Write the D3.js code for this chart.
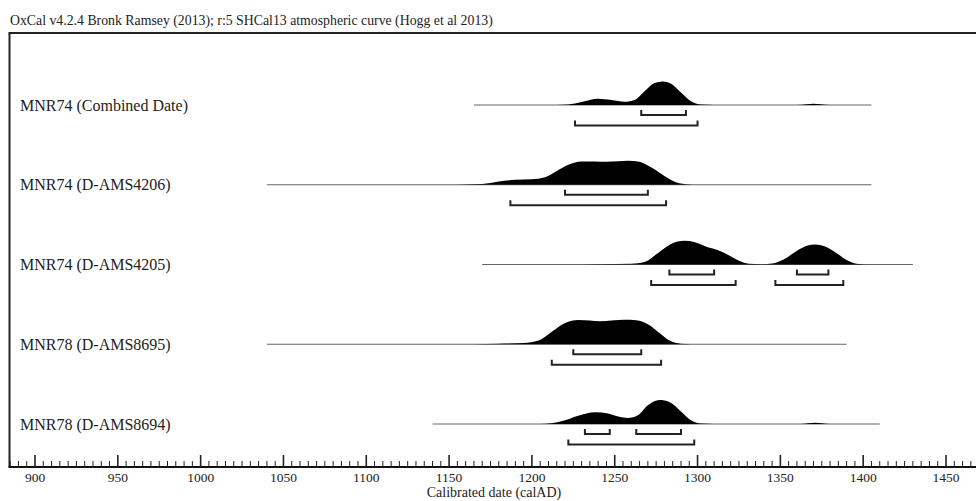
<!DOCTYPE html>
<html><head><meta charset="utf-8">
<script src="https://cdn.jsdelivr.net/npm/d3@7"></script>
<style>
html,body{margin:0;padding:0;background:#fff;}
svg{display:block;font-family:"Liberation Serif","Times New Roman",serif;}
</style></head>
<body>
<svg id="chart" width="976" height="501"></svg>
<script>
const titleText = "OxCal v4.2.4 Bronk Ramsey (2013); r:5 SHCal13 atmospheric curve (Hogg et al 2013)";
const axisTitle = "Calibrated date (calAD)";
const tickYears = [900, 950, 1000, 1050, 1100, 1150, 1200, 1250, 1300, 1350, 1400, 1450];

const labels = ["MNR74 (Combined Date)", "MNR74 (D-AMS4206)", "MNR74 (D-AMS4205)", "MNR78 (D-AMS8695)", "MNR78 (D-AMS8694)"];

// relative probability density [year, density]
const dens0 = [[1165,0],[1215,0],[1222,0.02],[1230,0.12],[1240,0.25],[1248,0.2],[1256,0.13],[1262,0.2],[1268,0.55],[1274,0.88],[1279,0.94],[1284,0.85],[1290,0.5],[1296,0.15],[1302,0.02],[1310,0],[1360,0],[1366,0.03],[1370,0.05],[1374,0.03],[1380,0],[1405,0]];
const dens1 = [[1040,0],[1150,0],[1160,0.01],[1170,0.03],[1180,0.13],[1190,0.2],[1200,0.22],[1208,0.3],[1215,0.55],[1222,0.8],[1230,0.93],[1238,0.93],[1245,0.92],[1252,0.94],[1258,0.96],[1264,0.93],[1272,0.7],[1280,0.35],[1287,0.1],[1295,0.01],[1300,0],[1405,0]];
const dens2 = [[1170,0],[1220,0],[1240,0.01],[1260,0.03],[1268,0.1],[1276,0.45],[1284,0.82],[1292,0.95],[1298,0.9],[1305,0.72],[1312,0.58],[1318,0.4],[1325,0.15],[1331,0.03],[1338,0.01],[1345,0.04],[1352,0.2],[1360,0.55],[1366,0.75],[1371,0.8],[1377,0.72],[1384,0.45],[1390,0.18],[1396,0.03],[1402,0],[1430,0]];
const dens3 = [[1040,0],[1165,0],[1180,0.02],[1195,0.05],[1204,0.15],[1212,0.5],[1220,0.85],[1228,0.97],[1235,0.95],[1241,0.92],[1248,0.95],[1256,0.98],[1263,0.96],[1270,0.8],[1277,0.45],[1283,0.15],[1290,0.02],[1296,0],[1390,0]];
const dens4 = [[1140,0],[1205,0],[1212,0.03],[1220,0.15],[1228,0.33],[1238,0.47],[1246,0.42],[1252,0.3],[1258,0.24],[1264,0.35],[1270,0.75],[1277,0.96],[1283,0.88],[1290,0.5],[1296,0.15],[1302,0.02],[1310,0],[1362,0],[1367,0.03],[1371,0.05],[1375,0.03],[1380,0],[1410,0]];
const densities = [dens0, dens1, dens2, dens3, dens4];

// highest probability density ranges
const hpd68 = [[[1266,1293]], [[1220,1270]], [[1283,1310],[1360,1379]], [[1225,1266]], [[1232,1247],[1263,1290]]];
const hpd95 = [[[1226,1300]], [[1187,1281]], [[1272,1323],[1347,1388]], [[1212,1278]], [[1222,1298]]];

const svg = d3.select("#chart");
const x = d3.scaleLinear().domain([900, 1450]).range([35, 946]);
const yRow = d3.scalePoint().domain(labels).range([105, 424]);
const h = d3.scaleLinear().domain([0, 1]).range([0, 25]);

const frameLeft = 9.5, frameTop = 33, axisY = 467;

// title
svg.append("text").attr("x", 10).attr("y", 25).attr("font-size", 13.8).attr("fill", "#222").text(titleText);

// frame
svg.append("line").attr("x1", frameLeft - 1).attr("x2", 976).attr("y1", frameTop).attr("y2", frameTop).attr("stroke", "#222").attr("stroke-width", 2);
svg.append("line").attr("x1", frameLeft).attr("x2", frameLeft).attr("y1", frameTop).attr("y2", axisY).attr("stroke", "#222").attr("stroke-width", 2);

// axis
const minorYears = d3.range(885, 1470, 5);
const axisG = svg.append("g").attr("transform", `translate(0,${axisY})`);
axisG.append("line").attr("x1", frameLeft - 1).attr("x2", 976).attr("stroke", "#111").attr("stroke-width", 2);
axisG.selectAll("line.tk").data(minorYears).join("line").attr("class", "tk")
  .attr("x1", d => x(d)).attr("x2", d => x(d))
  .attr("y1", 0).attr("y2", d => d % 50 === 0 ? -12 : -6)
  .attr("stroke", "#222").attr("stroke-width", d => d % 50 === 0 ? 1.6 : 1);
axisG.selectAll("text.tl").data(tickYears).join("text").attr("class", "tl")
  .attr("x", d => x(d)).attr("y", 15).attr("text-anchor", "middle")
  .attr("font-size", 13.5).attr("fill", "#222").text(d => d);
svg.append("text").attr("x", 494).attr("y", 497).attr("text-anchor", "middle")
  .attr("font-size", 14).attr("fill", "#222").text(axisTitle);

// rows
const area = d3.area().x(d => x(d[0])).y0(0).y1(d => -h(d[1])).curve(d3.curveMonotoneX);
labels.forEach((lab, i) => {
  const g = svg.append("g").attr("transform", `translate(0,${yRow(lab)})`);
  g.append("text").attr("x", 20).attr("y", 5.5).attr("font-size", 16).attr("fill", "#222").text(lab);
  const dd = densities[i];
  g.append("line").attr("x1", x(dd[0][0])).attr("x2", x(dd[dd.length-1][0]))
    .attr("stroke", "#666").attr("stroke-width", 1.2);
  g.append("path").attr("d", area(dd)).attr("fill", "#000");
  const br = (ranges, off) => {
    ranges.forEach(r => {
      g.append("path")
        .attr("d", `M${x(r[0])},${off-5}V${off}H${x(r[1])}V${off-5}`)
        .attr("fill", "none").attr("stroke", "#222").attr("stroke-width", 2);
    });
  };
  br(hpd68[i], 10);
  br(hpd95[i], 20.5);
});
</script>
</body></html>
